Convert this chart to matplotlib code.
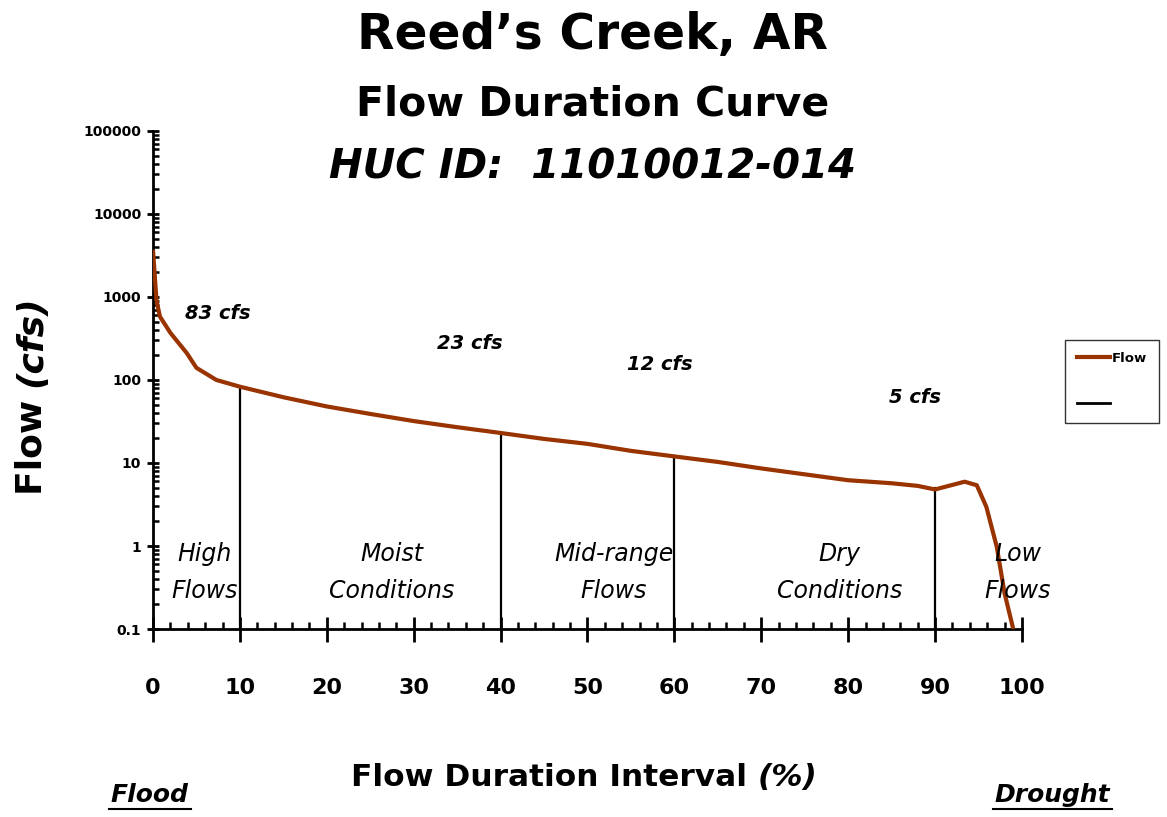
import matplotlib
matplotlib.use("Agg")
import matplotlib.pyplot as plt
from matplotlib.ticker import LogLocator, FixedLocator, MultipleLocator, NullFormatter
from matplotlib.lines import Line2D

# ---- data ----
pct = [0, 0.4, 0.8, 2.0, 3.9, 5.0, 7.3, 10, 15, 20, 25, 30, 35, 40, 45, 50, 55, 60,
       65, 70, 75, 80, 85, 88, 90, 93.4, 94.8, 95.9, 97.1, 98.0, 99.0]
flow = [3700, 910, 580, 370, 210, 140, 100, 83, 62, 48, 39, 32, 27, 23, 19.5, 17, 14, 12,
        10.3, 8.6, 7.3, 6.2, 5.7, 5.3, 4.8, 5.95, 5.4, 2.97, 0.98, 0.27, 0.1]
split_pct = [10, 40, 60, 90]
split_flow = [83, 23, 12, 5]
split_labels = ["83 cfs", "23 cfs", "12 cfs", "5 cfs"]
split_label_pos = [(7.5, 640), (36.5, 272), (58.3, 152), (87.7, 62)]
zone_labels = ["High\nFlows", "Moist\nConditions", "Mid-range\nFlows", "Dry\nConditions", "Low\nFlows"]
zone_x = [5.9, 27.5, 53.0, 79.0, 99.5]
yticks = [0.1, 1, 10, 100, 1000, 10000, 100000]
ytick_labels = ["0.1", "1", "10", "100", "1000", "10000", "100000"]
xticks = [0, 10, 20, 30, 40, 50, 60, 70, 80, 90, 100]

BROWN = "#993300"
FONT = "DejaVu Sans"
plt.rcParams['font.family'] = [FONT]

fig = plt.figure(figsize=(11.67, 8.17), dpi=100)
ax = fig.add_axes([0.1311, 0.2301, 0.7446, 0.6096])

ax.plot(pct, flow, color=BROWN, lw=3.0, solid_capstyle='butt', zorder=3)
for x, f in zip(split_pct, split_flow):
    ax.plot([x, x], [0.1, f], color='black', lw=1.6, zorder=2)

ax.set_yscale('log')
ax.set_xlim(0, 100)
ax.set_ylim(0.1, 100000)

for s in ['top', 'right']:
    ax.spines[s].set_visible(False)
for s in ['left', 'bottom']:
    ax.spines[s].set_linewidth(2.0)

ax.yaxis.set_major_locator(FixedLocator(yticks))
ax.set_yticklabels(ytick_labels, fontsize=10, fontweight='bold')
ax.yaxis.set_minor_locator(LogLocator(base=10, subs=range(2, 10), numticks=20))
ax.yaxis.set_minor_formatter(NullFormatter())
ax.tick_params(axis='y', which='major', direction='inout', length=9, width=2, pad=4)
ax.tick_params(axis='y', which='minor', direction='in', length=4, width=1.8)

ax.xaxis.set_major_locator(FixedLocator(xticks))
ax.set_xticklabels([str(t) for t in xticks], fontsize=16, fontweight='bold')
ax.xaxis.set_minor_locator(MultipleLocator(2))
ax.tick_params(axis='x', which='major', direction='inout', length=18, width=2, pad=26)
ax.tick_params(axis='x', which='minor', direction='in', length=5, width=1.8)

for lab, (x, y) in zip(split_labels, split_label_pos):
    ax.text(x, y, lab, fontsize=14, fontweight='bold', style='italic', ha='center', va='center')

for lab, x in zip(zone_labels, zone_x):
    ax.text(x, 0.48, lab, fontsize=17, style='italic', ha='center', va='center',
            linespacing=1.65, zorder=4)

# titles
fig.text(0.508, 0.957, "Reed\u2019s Creek, AR", fontsize=35, fontweight='bold', ha='center', va='center')
fig.text(0.508, 0.872, "Flow Duration Curve", fontsize=29.5, fontweight='bold', ha='center', va='center')
fig.text(0.508, 0.795, "HUC ID:  11010012-014", fontsize=29, fontweight='bold', style='italic',
         ha='center', va='center')

# axis labels
fig.text(0.027, 0.526, "Flow ", fontsize=26, fontweight='bold', rotation=90, ha='center', va='top')
fig.text(0.027, 0.526, "(cfs)", fontsize=26, fontweight='bold', style='italic', rotation=90,
         ha='center', va='bottom')
fig.text(0.649, 0.048, "Flow Duration Interval ", fontsize=22.5, fontweight='bold', ha='right', va='center')
fig.text(0.649, 0.048, "(%)", fontsize=22.5, fontweight='bold', style='italic', ha='left', va='center')

fig.text(0.128, 0.027, "Flood", fontsize=18, fontweight='bold', style='italic', ha='center', va='center')
fig.text(0.902, 0.027, "Drought", fontsize=18, fontweight='bold', style='italic', ha='center', va='center')
# underlines
fig.add_artist(Line2D([0.093, 0.164], [0.010, 0.010], color='black', lw=1.5, transform=fig.transFigure))
fig.add_artist(Line2D([0.851, 0.953], [0.010, 0.010], color='black', lw=1.5, transform=fig.transFigure))

handles = [Line2D([], [], color=BROWN, lw=3), Line2D([], [], color='black', lw=2)]
leg = fig.legend(handles, ["Flow", ""], loc='upper left', bbox_to_anchor=(0.9126, 0.584),
                 frameon=True, fancybox=False, edgecolor='black', handlelength=2.5,
                 prop={'weight': 'bold', 'size': 9.5}, borderpad=0.9, labelspacing=2.5,
                 handletextpad=0.15, borderaxespad=0)
leg.get_frame().set_linewidth(1.0)

fig.savefig("out.png", dpi=100)
